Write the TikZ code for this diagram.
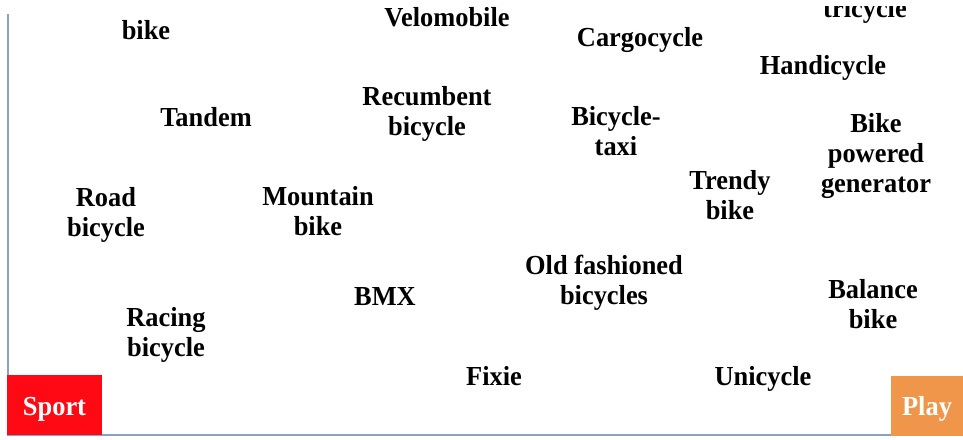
\documentclass[tikz,border=0pt]{standalone}
\usepackage{fontspec}
\setmainfont{Liberation Serif}[FakeStretch=0.96]
\usepackage{xcolor}
\definecolor{sportred}{HTML}{FF0A14}
\definecolor{playorange}{HTML}{F0964B}
\definecolor{axisblue}{HTML}{8CA0C4}

\begin{document}
\begin{tikzpicture}[x=1pt, y=-1pt,
		kind/.style={align=center, anchor=base, font=\fontsize{27.5}{30}\selectfont\bfseries, inner sep=0pt},
		corner/.style={kind, anchor=center, text=white, minimum height=60pt, text height=20pt, text depth=0pt}]
		\useasboundingbox (0,0) rectangle (963,439);
		\begin{scope}
			\clip (0,6) rectangle (963,439);
			\draw[axisblue, line width=2.5pt] (8,14) -- (8,435) -- (963,435);

			% anchor = baseline of the last line
			\node[kind] (bike) at (146,39) {bike};
			\node[kind] (velo) at (447,26) {Velomobile};
			\node[kind] (tricycle) at (865,17) {tricycle};
			\node[kind] (cargo) at (640,46) {Cargocycle};
			\node[kind] (handi) at (823,74) {Handicycle};
			\node[kind] (tandem) at (206,126) {Tandem};
			\node[kind] (recumbent) at (427,135) {Recumbent\\bicycle};
			\node[kind] (taxi) at (616,155) {Bicycle-\\taxi};
			\node[kind] (generator) at (876,192) {Bike\\powered\\generator};
			\node[kind] (trendy) at (730,219) {Trendy\\bike};
			\node[kind] (road) at (106,236) {Road\\bicycle};
			\node[kind] (mountain) at (318,235) {Mountain\\bike};
			\node[kind] (old) at (604,304) {Old fashioned\\bicycles};
			\node[kind] (bmx) at (385,305) {BMX};
			\node[kind] (balance) at (873,328) {Balance\\bike};
			\node[kind] (racing) at (166,356) {Racing\\bicycle};
			\node[kind] (fixie) at (494,385) {Fixie};
			\node[kind] (uni) at (763,385) {Unicycle};

			\node[corner, fill=sportred, minimum width=95pt] (sport) at (54.5,405) {Sport};
			\node[corner, fill=playorange, minimum width=72pt] (play) at (927,405.5) {Play};
		\end{scope}
	\end{tikzpicture}
\end{document}
